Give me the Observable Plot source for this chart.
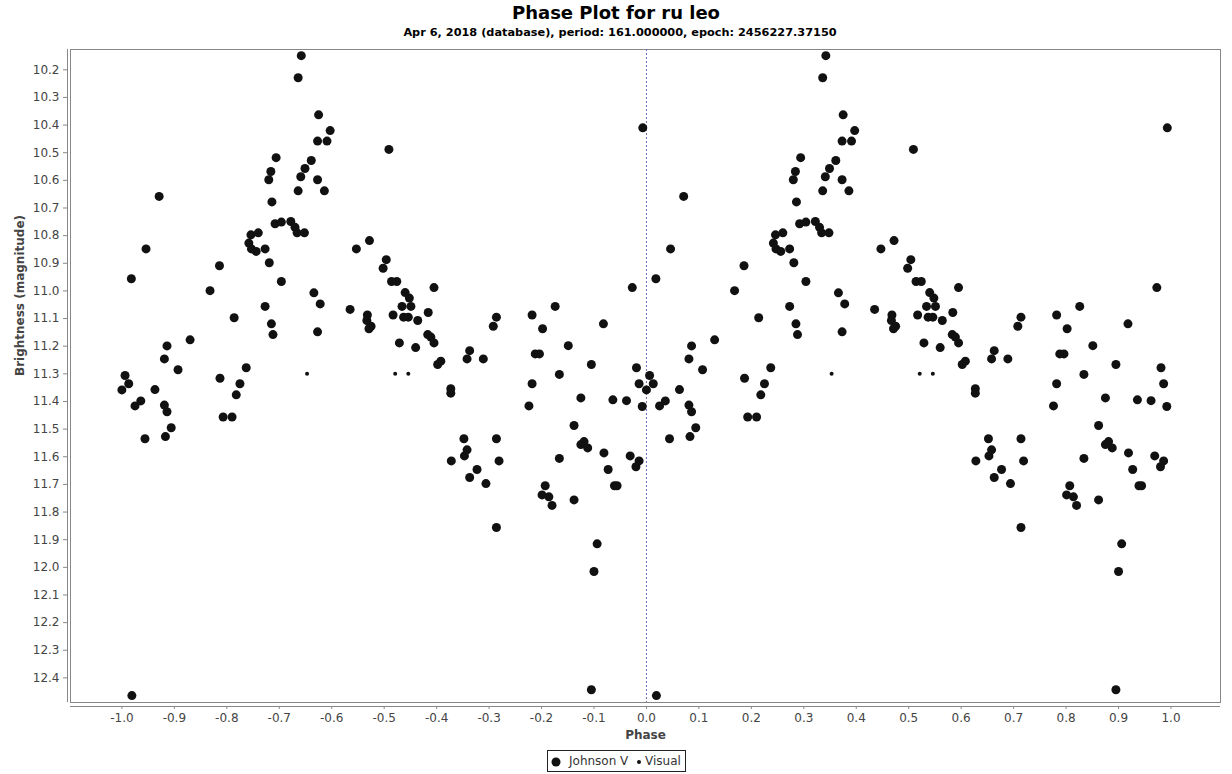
<!DOCTYPE html>
<html>
<head>
<meta charset="utf-8">
<script src="https://cdn.jsdelivr.net/npm/d3@7"></script>
<script src="https://cdn.jsdelivr.net/npm/@observablehq/plot@0.6"></script>
<style>
  html, body { margin: 0; padding: 0; background: #fff; }
  #page { position: relative; width: 1232px; height: 774px; overflow: hidden; font-family: "DejaVu Sans", sans-serif; }
  #title { position: absolute; left: 0; width: 1232px; top: 2px; text-align: center; font-size: 18px; line-height: 22px; font-weight: bold; color: #000; }
  #subtitle { position: absolute; left: 4px; width: 1232px; top: 26px; text-align: center; font-size: 11.3px; line-height: 14px; font-weight: bold; color: #000; }
  #chart { position: absolute; left: 0; top: 45px; }
  #legend { position: absolute; left: 547px; top: 750px; width: 137px; height: 20px; border: 1px solid #222; font-size: 12px; color: #333; }
  #legend span { position: absolute; top: 3px; line-height: 14px; }
  #legend svg { position: absolute; top: 0; left: 0; }
</style>
</head>
<body>
<div id="page">
  <div id="title">Phase Plot for ru leo</div>
  <div id="subtitle">Apr 6, 2018 (database), period: 161.000000, epoch: 2456227.37150</div>
  <div id="chart"></div>
  <div id="legend">
    <svg width="137" height="20"><circle cx="8" cy="11" r="4.5" fill="#111"></circle><circle cx="91" cy="11" r="2" fill="#111"></circle></svg>
    <span style="left:21px">Johnson V</span>
    <span style="left:97px">Visual</span>
  </div>
</div>
<script>
// Johnson V observations, phase in [0, 1)
const phaseJ = [
  0.342, 0.336, 0.375, 0.397, 0.373, 0.391, 0.509, 0.294, 0.361, 0.349,
  0.284, 0.280, 0.341, 0.373, 0.336, 0.386, 0.071, 0.286, 0.292, 0.304,
  0.322, 0.330, 0.334, 0.348, 0.472, 0.447, 0.246, 0.260, 0.242, 0.247,
  0.256, 0.273, 0.046, 0.281, 0.504, 0.498, 0.186, 0.018, 0.304, 0.514,
  0.524, 0.540, 0.168, 0.366, 0.378, 0.435, 0.273, 0.468, 0.467, 0.475,
  0.471, 0.517, 0.534, 0.537, 0.546, 0.529, 0.214, 0.285, 0.288, 0.373,
  0.086, 0.130, 0.081, 0.107, 0.237, 0.187, 0.006, 0.013, 0.000, 0.025,
  0.036, 0.063, 0.225, 0.218, 0.081, 0.086, 0.094, 0.083, 0.044, 0.193,
  0.210, 0.019, 0.993, 0.595, 0.973, 0.548, 0.551, 0.584, 0.564, 0.714,
  0.708, 0.782, 0.826, 0.802, 0.918, 0.583, 0.589, 0.595, 0.560, 0.851,
  0.663, 0.658, 0.689, 0.608, 0.602, 0.788, 0.796, 0.895, 0.981, 0.834,
  0.782, 0.986, 0.627, 0.627, 0.875, 0.776, 0.936, 0.962, 0.992, 0.862,
  0.652, 0.714, 0.875, 0.881, 0.888, 0.658, 0.653, 0.919, 0.969, 0.986,
  0.980, 0.628, 0.719, 0.834, 0.927, 0.677, 0.663, 0.694, 0.939, 0.944,
  0.807, 0.801, 0.814, 0.820, 0.862, 0.714, 0.906, 0.900, 0.895
];
const magJ = [
  10.149, 10.229, 10.363, 10.420, 10.458, 10.458, 10.488, 10.518, 10.528, 10.557,
  10.568, 10.598, 10.587, 10.598, 10.638, 10.638, 10.658, 10.678, 10.757, 10.751,
  10.749, 10.770, 10.790, 10.790, 10.818, 10.848, 10.797, 10.790, 10.827, 10.848,
  10.857, 10.848, 10.848, 10.898, 10.887, 10.918, 10.909, 10.956, 10.966, 10.966,
  10.966, 11.006, 10.999, 11.007, 11.047, 11.067, 11.056, 11.087, 11.107, 11.128,
  11.137, 11.087, 11.056, 11.095, 11.095, 11.188, 11.097, 11.119, 11.158, 11.148,
  11.199, 11.177, 11.246, 11.285, 11.278, 11.316, 11.306, 11.336, 11.358, 11.416,
  11.398, 11.357, 11.336, 11.376, 11.413, 11.437, 11.495, 11.527, 11.535, 11.456,
  11.456, 12.464, 10.410, 10.988, 10.988, 11.026, 11.056, 11.078, 11.107, 11.095,
  11.128, 11.087, 11.056, 11.137, 11.119, 11.158, 11.167, 11.188, 11.205, 11.198,
  11.216, 11.246, 11.246, 11.254, 11.266, 11.228, 11.228, 11.266, 11.278, 11.302,
  11.336, 11.336, 11.354, 11.370, 11.387, 11.416, 11.394, 11.397, 11.418, 11.487,
  11.535, 11.535, 11.556, 11.545, 11.568, 11.575, 11.597, 11.586, 11.597, 11.615,
  11.636, 11.615, 11.615, 11.606, 11.646, 11.646, 11.675, 11.697, 11.705, 11.705,
  11.705, 11.738, 11.745, 11.776, 11.756, 11.856, 11.915, 12.015, 12.443
];
// Visual observations, phase in [0, 1)
const phaseV = [0.353, 0.521, 0.546];
const magV = [11.30, 11.30, 11.30];

// tick labels
const xTicks = [-1.0, -0.9, -0.8, -0.7, -0.6, -0.5, -0.4, -0.3, -0.2, -0.1, 0.0, 0.1, 0.2, 0.3, 0.4, 0.5, 0.6, 0.7, 0.8, 0.9, 1.0];
const yTicks = [10.2, 10.3, 10.4, 10.5, 10.6, 10.7, 10.8, 10.9, 11.0, 11.1, 11.2, 11.3, 11.4, 11.5, 11.6, 11.7, 11.8, 11.9, 12.0, 12.1, 12.2, 12.3, 12.4];

// phase plot shows each observation at phase and phase - 1
function fold(ph, mg) {
  const rows = [];
  ph.forEach((p, i) => {
    rows.push({phase: p - 1, mag: mg[i]});
    rows.push({phase: p, mag: mg[i]});
  });
  return rows;
}
const rowsJ = fold(phaseJ, magJ);
const rowsV = fold(phaseV, magV);

const xDom = [-1.098, 1.0944];
const yDom = [10.1266, 12.489];
const fmt = d => (Math.abs(d) < 1e-9 ? 0 : d).toFixed(1);

const chart = Plot.plot({
  width: 1232,
  height: 700,
  marginTop: 4,
  marginBottom: 43,
  marginLeft: 70,
  marginRight: 12,
  style: {fontFamily: "DejaVu Sans", fontSize: "12px", color: "#444", background: "#fff"},
  x: {domain: xDom},
  y: {domain: yDom, reverse: true},
  marks: [
    Plot.frame({stroke: "#888"}),
    Plot.ruleX([0], {stroke: "#6a6ab8", strokeDasharray: "2,2", strokeWidth: 1}),
    Plot.dot(rowsJ, {x: "phase", y: "mag", r: 4.5, fill: "#111", stroke: "none"}),
    Plot.dot(rowsV, {x: "phase", y: "mag", r: 2, fill: "#111", stroke: "none"}),
    Plot.ruleX([xDom[0]], {dx: -3, stroke: "#888"}),
    Plot.ruleY([yDom[1]], {dy: 4, stroke: "#888"}),
    Plot.axisX({ticks: xTicks, tickFormat: fmt, tickSize: 3, tickPadding: 4, dy: 4, stroke: "#888", fill: "#444", label: null}),
    Plot.axisY({ticks: yTicks, tickFormat: fmt, tickSize: 4, tickPadding: 4, dx: -3, stroke: "#888", fill: "#444", label: null}),
    Plot.text(["Phase"], {frameAnchor: "bottom", dy: 36, fontWeight: "bold", fill: "#444", fontSize: 12}),
    Plot.text(["Brightness (magnitude)"], {frameAnchor: "left", dx: -50, rotate: -90, fontWeight: "bold", fill: "#444", fontSize: 12})
  ]
});
document.getElementById("chart").appendChild(chart);
</script>
</body>
</html>
